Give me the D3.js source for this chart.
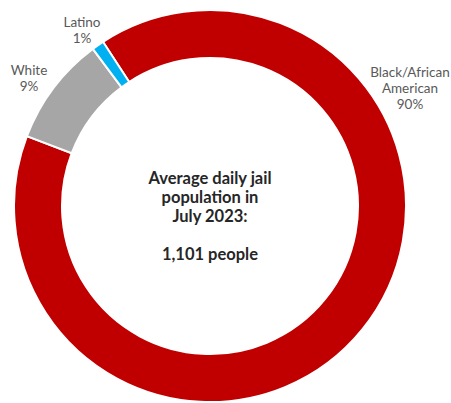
<!DOCTYPE html>
<html>
<head>
<meta charset="utf-8">
<script src="https://cdn.jsdelivr.net/npm/d3@7"></script>
<style>
  html, body { margin: 0; padding: 0; background: #fff; }
  svg { display: block; }
</style>
</head>
<body>
<svg id="chart" width="451" height="403"></svg>
<script>
// Jail population by race, July 2023
const categories = ["Black/African American", "White", "Latino"];
const shares = [90, 9, 1];
const labelLines = [["Black/African", "American", "90%"], ["White", "9%"], ["Latino", "1%"]];
const centerLines = ["Average daily jail", "population in", "July 2023:", "", "1,101 people"];

const colors = ["#C00000", "#A6A6A6", "#00B0F0"];
// label anchor (x of centre, baseline y of first line) per category
const labelPos = [[410, 77], [29, 75], [82, 27]];

const svg = d3.select("#chart");
const cx = 210, cy = 206, outerR = 196, innerR = 148;

// Black slice begins just right of the top-left, slices run clockwise
const startAngle = -33.1 * Math.PI / 180;
const pie = d3.pie()
  .sort(null)
  .value(d => d)
  .startAngle(startAngle)
  .endAngle(startAngle + 2 * Math.PI);

const arc = d3.arc().innerRadius(innerR).outerRadius(outerR);

const g = svg.append("g").attr("transform", `translate(${cx},${cy})`);

g.selectAll("path.slice")
  .data(pie(shares))
  .join("path")
  .attr("class", "slice")
  .attr("d", arc)
  .attr("fill", (d, i) => colors[i])
  .attr("stroke", "#fff")
  .attr("stroke-width", 2);

// category labels
const labels = svg.selectAll("text.label")
  .data(categories)
  .join("text")
  .attr("class", "label")
  .attr("text-anchor", "middle")
  .attr("font-family", "Lato, 'Open Sans', sans-serif")
  .attr("font-size", 13.5)
  .attr("fill", "#595959");

labels.each(function(d, i) {
  const t = d3.select(this);
  labelLines[i].forEach((line, j) => {
    t.append("tspan")
      .attr("x", labelPos[i][0])
      .attr("y", labelPos[i][1] + j * 16)
      .text(line);
  });
});

// centre caption
const center = svg.append("text")
  .attr("text-anchor", "middle")
  .attr("font-family", "Lato, 'Open Sans', sans-serif")
  .attr("font-weight", 700)
  .attr("font-size", 16.5)
  .attr("fill", "#262626");

centerLines.forEach((line, j) => {
  center.append("tspan")
    .attr("x", cx)
    .attr("y", 184 + j * 19)
    .text(line);
});
</script>
</body>
</html>
